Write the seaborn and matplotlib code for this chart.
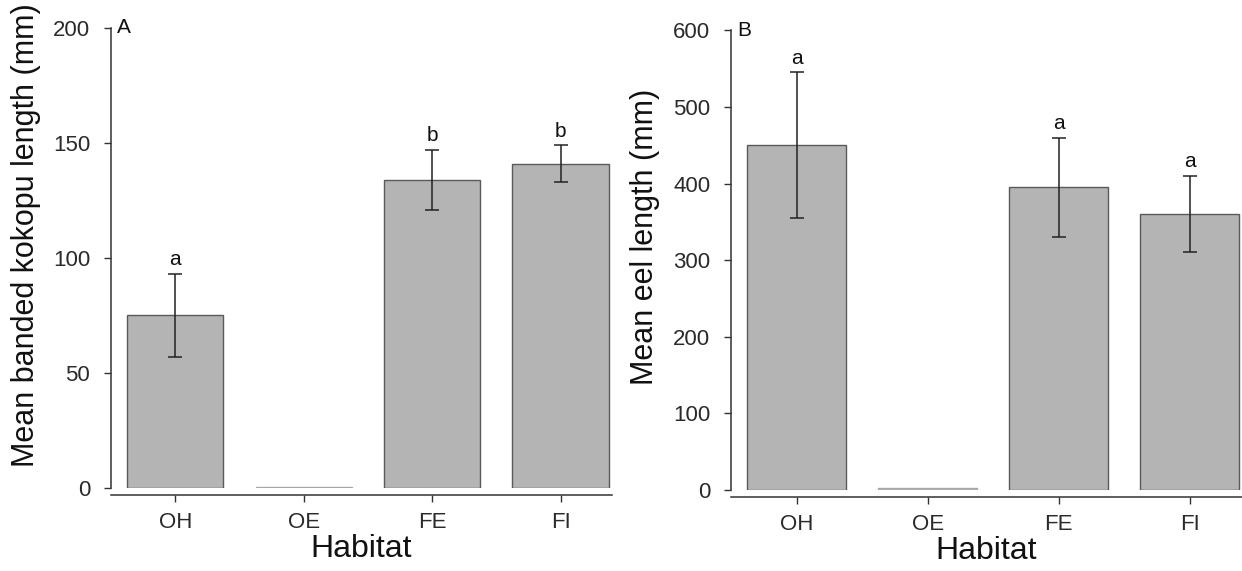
import matplotlib
matplotlib.use('Agg')
import matplotlib.pyplot as plt
import seaborn as sns
import pandas as pd

# Data
HABITATS = ['OH', 'OE', 'FE', 'FI']

kokopu_mean = [75, 0.6, 134, 141]
kokopu_err = [18, 0, 13, 8]
kokopu_letters = ['a', '', 'b', 'b']

eel_mean = [450, 2, 395, 360]
eel_err = [95, 0, 65, 50]
eel_letters = ['a', '', 'a', 'a']

sns.set_style('ticks')
plt.rcParams['font.family'] = ['Liberation Sans', 'DejaVu Sans']

fig = plt.figure(figsize=(12.42, 5.71), dpi=100)
ax_a = fig.add_axes([0.0894, 0.1454, 0.4034, 0.8056])
ax_b = fig.add_axes([0.5886, 0.1419, 0.4114, 0.8051])


def draw_panel(ax, means, errs, letters, ylim, yticks, ylabel, panel, letter_pad):
    df = pd.DataFrame({'Habitat': HABITATS, 'value': means})
    sns.barplot(data=df, x='Habitat', y='value', ax=ax, color='#b4b4b4',
                saturation=1, width=0.75, edgecolor='#5a5a5a', linewidth=1.0,
                errorbar=None)
    # zero-height bar shows as a light line only
    ax.patches[1].set_edgecolor('#a8a8a8')

    xs = range(len(HABITATS))
    for x, m, e, lab in zip(xs, means, errs, letters):
        if e > 0:
            ax.errorbar(x, m, yerr=e, fmt='none', ecolor='#222222',
                        elinewidth=1.1, capsize=5, capthick=1.1)
        if lab:
            ax.text(x, m + e + letter_pad, lab, ha='center', va='bottom',
                    fontsize=15, color='#111111')

    ax.set_ylim(*ylim)
    ax.set_yticks(yticks)
    ax.set_xlim(-0.5, 3.4)
    ax.set_ylabel(ylabel, fontsize=22, color='#111111')
    ax.set_xlabel('Habitat', fontsize=23, color='#111111', labelpad=1)
    ax.yaxis.set_label_coords(-0.14, 0.55)
    ax.tick_params(axis='both', labelsize=16, length=5, width=1,
                   color='#333333', labelcolor='#2a2a2a')
    ax.tick_params(axis='y', pad=10)
    ax.tick_params(axis='x', pad=7)
    sns.despine(ax=ax)
    ax.spines['bottom'].set_position(('outward', 5))
    for s in ('left', 'bottom'):
        ax.spines[s].set_linewidth(1.1)
        ax.spines[s].set_color('#333333')
    ax.text(0.012, 1.0, panel, transform=ax.transAxes, ha='left', va='center',
            fontsize=15, color='#111111')


draw_panel(ax_a, kokopu_mean, kokopu_err, kokopu_letters, (0, 200),
           [0, 50, 100, 150, 200], 'Mean banded kokopu length (mm)', 'A', 2)
draw_panel(ax_b, eel_mean, eel_err, eel_letters, (0, 600),
           [0, 100, 200, 300, 400, 500, 600], 'Mean eel length (mm)', 'B', 6)

fig.savefig('out.png', dpi=100)
